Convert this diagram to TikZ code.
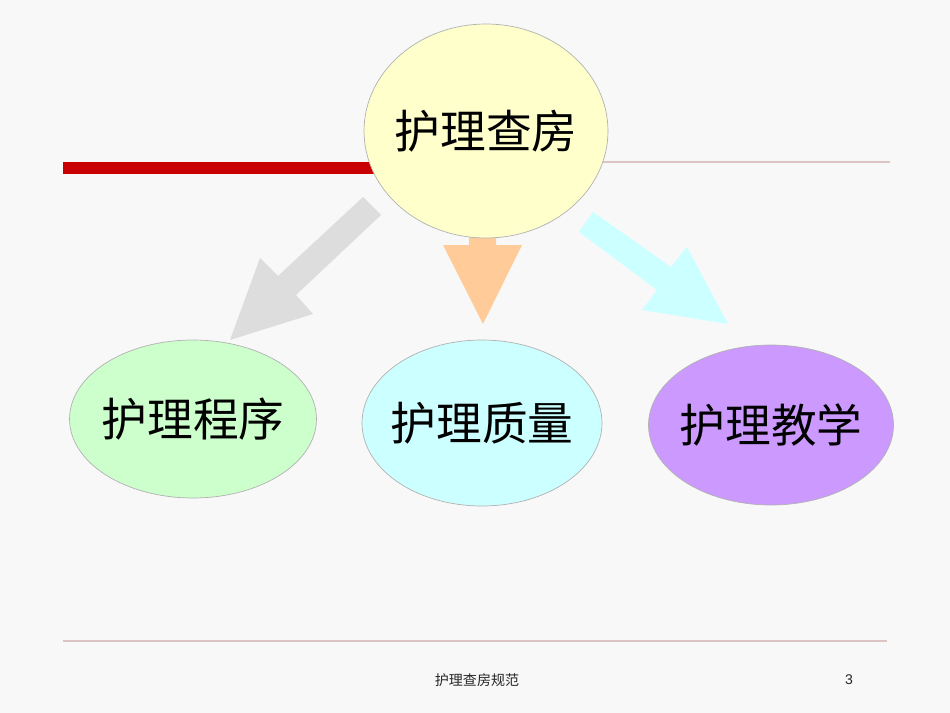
\documentclass[tikz,border=0pt]{standalone}
\usepackage{fontspec}
\setmainfont{Liberation Sans}
\newfontfamily\cjk{Noto Sans CJK SC}
\usepackage{tikz}
\usetikzlibrary{shapes.geometric}
\definecolor{bgpaper}{HTML}{F8F8F8}
\definecolor{barred}{HTML}{C80000}
\definecolor{rulepink}{HTML}{DCC4C4}
\definecolor{topfill}{HTML}{FFFFCC}
\definecolor{greenfill}{HTML}{CCFFCC}
\definecolor{cyanfill}{HTML}{CCFFFF}
\definecolor{violetfill}{HTML}{CC99FF}
\definecolor{grayarrow}{HTML}{DDDDDD}
\definecolor{orangearrow}{HTML}{FFCC99}
\tikzset{topic/.style={ellipse, draw=gray!60, line width=0.4pt, inner ysep=0pt, inner xsep=-8pt,
  font=\cjk\fontsize{26pt}{30pt}\selectfont}}
\tikzset{blockarrow/.style={draw=none}}
\tikzset{footer/.style={font=\fontsize{8pt}{10pt}\selectfont, text=black!85}}

\begin{document}
\begin{tikzpicture}[x=0.02cm, y=-0.02cm]
      \fill[bgpaper] (0, 0) rectangle (950, 713);
      \useasboundingbox (0, 0) rectangle (950, 713);

      % rules
      \fill[barred] (63, 162) rectangle (400, 174);
      \draw[rulepink, line width=0.6pt] (600, 162) -- (890, 162);
      \draw[rulepink, line width=0.6pt] (63, 641) -- (887, 641);

      % block arrows
      \fill[blockarrow, grayarrow] (363, 197) -- (381, 215) -- (296, 295) -- (313, 314)
        -- (230, 340) -- (260, 258) -- (278, 276) -- cycle;
      \fill[blockarrow, orangearrow] (469, 225) -- (496, 225) -- (496, 245) -- (522, 245)
        -- (483, 324) -- (443, 245) -- (469, 245) -- cycle;
      \fill[blockarrow, cyanfill] (593, 212) -- (579, 232) -- (657, 290) -- (642, 310)
        -- (728, 324) -- (687, 247) -- (671, 267) -- cycle;

      \node[topic, fill=topfill, minimum width=4.88cm, minimum height=4.28cm] (round) at (486, 131) {护理查房};
      \node[topic, fill=greenfill, minimum width=4.94cm, minimum height=3.16cm] (proc) at (193, 419) {护理程序};
      \node[topic, fill=cyanfill, minimum width=4.8cm, minimum height=3.32cm] (qual) at (482, 423) {护理质量};
      \node[topic, fill=violetfill, minimum width=4.9cm, minimum height=3.2cm] (teach) at (771, 425) {护理教学};

      \node[footer, font=\cjk\fontsize{8pt}{10pt}\selectfont] (title) at (477, 680) {护理查房规范};
      \node[footer] (page) at (849, 680) {3};
    \end{tikzpicture}
\end{document}
